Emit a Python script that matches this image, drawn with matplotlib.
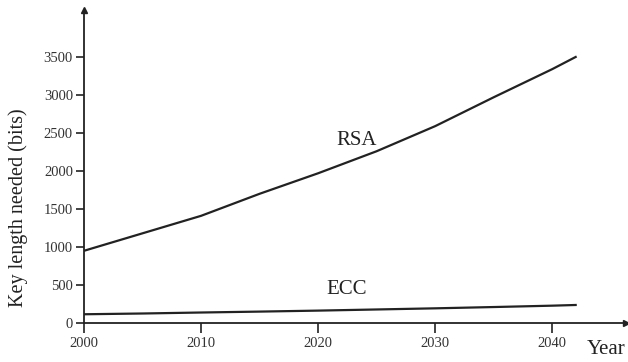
import numpy as np
import matplotlib.pyplot as plt

plt.rcParams['font.family'] = ['Liberation Serif', 'DejaVu Serif']

# key length estimates (bits) by year
years = [2000, 2005, 2010, 2015, 2020, 2025, 2030, 2035, 2040, 2042]
rsa = [950, 1180, 1410, 1700, 1970, 2260, 2590, 2970, 3340, 3500]
ecc = [115, 125, 138, 150, 163, 178, 193, 210, 228, 237]

xticks = [2000, 2010, 2020, 2030, 2040]
yticks = [0, 500, 1000, 1500, 2000, 2500, 3000, 3500]

fig = plt.figure(figsize=(6.28, 3.62), dpi=100)
ax = fig.add_axes([84/628, 39/362, (626-84)/628, (323-10)/362])

ax.plot(years, rsa, color='#222222', lw=1.6)
ax.plot(years, ecc, color='#222222', lw=1.6)

ax.set_xlim(2000, 2046.3)
ax.set_ylim(0, 4118)

for s in ['top', 'right']:
    ax.spines[s].set_visible(False)
for s in ['left', 'bottom']:
    ax.spines[s].set_linewidth(1.3)
    ax.spines[s].set_color('#222222')

# arrow heads at the ends of the axes
ax.plot(1, 0, '>', color='#222222', ms=5, transform=ax.transAxes, clip_on=False)
ax.plot(0, 1, '^', color='#222222', ms=5, transform=ax.transAxes, clip_on=False)

ax.set_xticks(xticks)
ax.set_yticks(yticks)
ax.tick_params(axis='x', direction='out', length=7, width=1.2, labelsize=10.5, pad=3,
               colors='#222222', labelcolor='#333333')
ax.tick_params(axis='y', direction='out', length=6, width=1.2, labelsize=10.5, pad=2,
               colors='#222222', labelcolor='#333333')

ax.text(2023.3, 2400, 'RSA', fontsize=15, color='#222222', ha='center', va='center')
ax.text(2022.4, 440, 'ECC', fontsize=15, color='#222222', ha='center', va='center')
fig.text(606/628, 1-349/362, 'Year', fontsize=15, color='#222222', ha='center', va='center')
fig.text(18/628, 1-208/362, 'Key length needed (bits)', fontsize=14.5, color='#222222',
         rotation=90, ha='center', va='center')

plt.savefig('out.png', dpi=100)
